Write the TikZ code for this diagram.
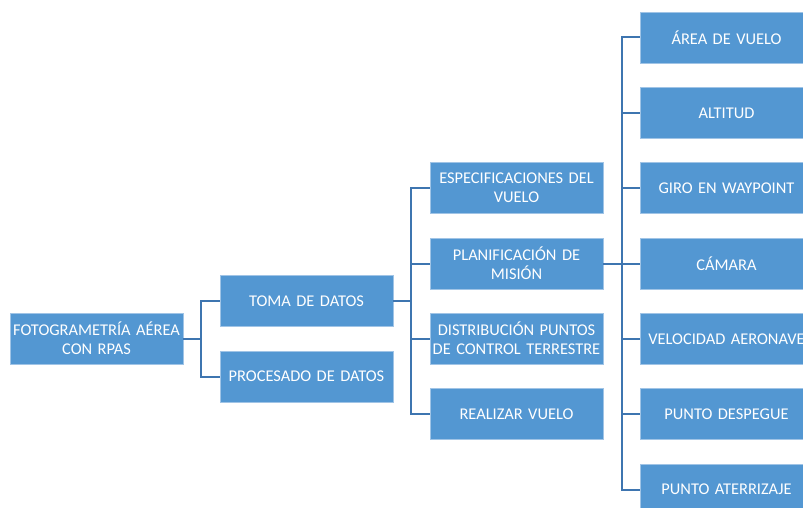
\documentclass[tikz,border=0pt]{standalone}
\usepackage{fontspec}
\setmainfont{Carlito}
\begin{document}
\definecolor{boxfill}{RGB}{83,151,210}
\definecolor{boxedge}{RGB}{160,196,230}
\definecolor{linkblue}{RGB}{62,117,176}
\begin{tikzpicture}[x=1pt,y=-1pt,
  box/.style={rectangle, fill=boxfill, draw=boxedge, line width=0.8pt,
    minimum width=173pt, minimum height=51pt, inner sep=0pt,
    text width=172pt, align=center, text=white,
    font=\fontsize{16.4}{18.6}\selectfont},
  conn/.style={draw=linkblue, line width=2pt}]
\useasboundingbox (0,0) rectangle (803,508);
\begin{scope}
\clip (0,0) rectangle (803,508);
% root
\node[box] (root) at (96.5,338.5) {FOTOGRAMETRÍA AÉREA\\CON RPAS};
% level 1
\node[box] (toma) at (306.5,301) {TOMA DE DATOS};
\node[box] (proc) at (306.5,376.5) {PROCESADO DE DATOS};
% level 2
\node[box] (espec) at (516.5,188) {ESPECIFICACIONES DEL\\VUELO};
\node[box] (plan) at (516.5,263.5) {PLANIFICACIÓN DE\\MISIÓN};
\node[box] (dist) at (516.5,338.5) {DISTRIBUCIÓN PUNTOS\\DE CONTROL TERRESTRE};
\node[box] (real) at (516.5,414) {REALIZAR VUELO};
% level 3
\node[box] (area) at (726.5,37.5) {ÁREA DE VUELO};
\node[box] (alt) at (726.5,113) {ALTITUD};
\node[box] (giro) at (726.5,188) {GIRO EN WAYPOINT};
\node[box] (cam) at (726.5,263.5) {CÁMARA};
\node[box] (vel) at (726.5,339) {VELOCIDAD AERONAVE};
\node[box] (desp) at (726.5,414) {PUNTO DESPEGUE};
\node[box] (ater) at (726.5,489.5) {PUNTO ATERRIZAJE};
\end{scope}
% root -> level 1
\draw[conn] (root.east) -- ++(18,0);
\draw[conn] (toma.west) -- ++(-19,0) |- (proc.west);
% toma -> level 2
\draw[conn] (toma.east) -- ++(18,0);
\draw[conn] (espec.west) -- ++(-19,0) |- (real.west);
\draw[conn] (plan.west) -- ++(-19,0);
\draw[conn] (dist.west) -- ++(-19,0);
% planificacion -> level 3
\draw[conn] (plan.east) -- ++(19,0);
\draw[conn] (area.west) -- ++(-18,0) |- (ater.west);
\draw[conn] (alt.west) -- ++(-18,0);
\draw[conn] (giro.west) -- ++(-18,0);
\draw[conn] (cam.west) -- ++(-18,0);
\draw[conn] (vel.west) -- ++(-18,0);
\draw[conn] (desp.west) -- ++(-18,0);
\end{tikzpicture}
\end{document}
